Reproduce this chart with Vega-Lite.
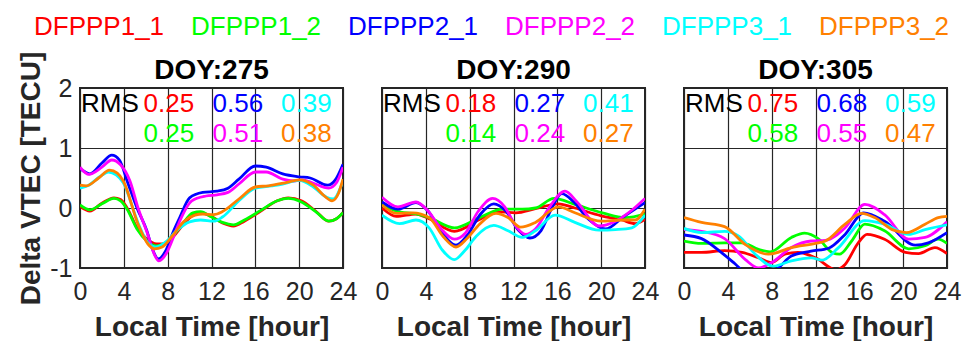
{
  "$schema": "https://vega.github.io/schema/vega-lite/v6.json",
  "background": "white",
  "padding": {"left": 8, "top": 14, "right": 5, "bottom": 0},
  "datasets": {
    "vtec": [
      {"doy":"DOY:275","series":"DFPPP1_1","hour":0,"vtec":0.03},{"doy":"DOY:275","series":"DFPPP1_1","hour":0.9,"vtec":-0.05},{"doy":"DOY:275","series":"DFPPP1_1","hour":2,"vtec":0.08},{"doy":"DOY:275","series":"DFPPP1_1","hour":3.1,"vtec":0.17},{"doy":"DOY:275","series":"DFPPP1_1","hour":3.7,"vtec":0.14},{"doy":"DOY:275","series":"DFPPP1_1","hour":4.3,"vtec":0.0},{"doy":"DOY:275","series":"DFPPP1_1","hour":5.2,"vtec":-0.33},{"doy":"DOY:275","series":"DFPPP1_1","hour":6.1,"vtec":-0.52},{"doy":"DOY:275","series":"DFPPP1_1","hour":7.0,"vtec":-0.6},{"doy":"DOY:275","series":"DFPPP1_1","hour":7.6,"vtec":-0.6},{"doy":"DOY:275","series":"DFPPP1_1","hour":8.5,"vtec":-0.48},{"doy":"DOY:275","series":"DFPPP1_1","hour":9.3,"vtec":-0.3},{"doy":"DOY:275","series":"DFPPP1_1","hour":10.3,"vtec":-0.12},{"doy":"DOY:275","series":"DFPPP1_1","hour":11,"vtec":-0.08},{"doy":"DOY:275","series":"DFPPP1_1","hour":12,"vtec":-0.14},{"doy":"DOY:275","series":"DFPPP1_1","hour":13,"vtec":-0.25},{"doy":"DOY:275","series":"DFPPP1_1","hour":14,"vtec":-0.3},{"doy":"DOY:275","series":"DFPPP1_1","hour":15,"vtec":-0.22},{"doy":"DOY:275","series":"DFPPP1_1","hour":16.5,"vtec":-0.05},{"doy":"DOY:275","series":"DFPPP1_1","hour":18,"vtec":0.12},{"doy":"DOY:275","series":"DFPPP1_1","hour":19,"vtec":0.17},{"doy":"DOY:275","series":"DFPPP1_1","hour":20.2,"vtec":0.12},{"doy":"DOY:275","series":"DFPPP1_1","hour":21.5,"vtec":-0.05},{"doy":"DOY:275","series":"DFPPP1_1","hour":22.7,"vtec":-0.22},{"doy":"DOY:275","series":"DFPPP1_1","hour":23.4,"vtec":-0.18},{"doy":"DOY:275","series":"DFPPP1_1","hour":24,"vtec":-0.08},

      {"doy":"DOY:275","series":"DFPPP1_2","hour":0,"vtec":0.05},{"doy":"DOY:275","series":"DFPPP1_2","hour":0.9,"vtec":-0.03},{"doy":"DOY:275","series":"DFPPP1_2","hour":2,"vtec":0.07},{"doy":"DOY:275","series":"DFPPP1_2","hour":3.1,"vtec":0.16},{"doy":"DOY:275","series":"DFPPP1_2","hour":3.7,"vtec":0.12},{"doy":"DOY:275","series":"DFPPP1_2","hour":4.3,"vtec":-0.02},{"doy":"DOY:275","series":"DFPPP1_2","hour":5.2,"vtec":-0.35},{"doy":"DOY:275","series":"DFPPP1_2","hour":6.1,"vtec":-0.55},{"doy":"DOY:275","series":"DFPPP1_2","hour":7.0,"vtec":-0.63},{"doy":"DOY:275","series":"DFPPP1_2","hour":7.6,"vtec":-0.6},{"doy":"DOY:275","series":"DFPPP1_2","hour":8.5,"vtec":-0.46},{"doy":"DOY:275","series":"DFPPP1_2","hour":9.3,"vtec":-0.28},{"doy":"DOY:275","series":"DFPPP1_2","hour":10.3,"vtec":-0.08},{"doy":"DOY:275","series":"DFPPP1_2","hour":11,"vtec":-0.06},{"doy":"DOY:275","series":"DFPPP1_2","hour":12,"vtec":-0.15},{"doy":"DOY:275","series":"DFPPP1_2","hour":13,"vtec":-0.24},{"doy":"DOY:275","series":"DFPPP1_2","hour":14,"vtec":-0.28},{"doy":"DOY:275","series":"DFPPP1_2","hour":15,"vtec":-0.2},{"doy":"DOY:275","series":"DFPPP1_2","hour":16.5,"vtec":-0.04},{"doy":"DOY:275","series":"DFPPP1_2","hour":18,"vtec":0.12},{"doy":"DOY:275","series":"DFPPP1_2","hour":19,"vtec":0.16},{"doy":"DOY:275","series":"DFPPP1_2","hour":20.2,"vtec":0.1},{"doy":"DOY:275","series":"DFPPP1_2","hour":21.5,"vtec":-0.06},{"doy":"DOY:275","series":"DFPPP1_2","hour":22.7,"vtec":-0.22},{"doy":"DOY:275","series":"DFPPP1_2","hour":23.4,"vtec":-0.18},{"doy":"DOY:275","series":"DFPPP1_2","hour":24,"vtec":-0.08},

      {"doy":"DOY:275","series":"DFPPP2_1","hour":0,"vtec":0.66},{"doy":"DOY:275","series":"DFPPP2_1","hour":0.9,"vtec":0.57},{"doy":"DOY:275","series":"DFPPP2_1","hour":2,"vtec":0.75},{"doy":"DOY:275","series":"DFPPP2_1","hour":2.9,"vtec":0.88},{"doy":"DOY:275","series":"DFPPP2_1","hour":3.6,"vtec":0.8},{"doy":"DOY:275","series":"DFPPP2_1","hour":4.3,"vtec":0.45},{"doy":"DOY:275","series":"DFPPP2_1","hour":5.2,"vtec":0.0},{"doy":"DOY:275","series":"DFPPP2_1","hour":6.1,"vtec":-0.38},{"doy":"DOY:275","series":"DFPPP2_1","hour":6.6,"vtec":-0.68},{"doy":"DOY:275","series":"DFPPP2_1","hour":7.15,"vtec":-0.85},{"doy":"DOY:275","series":"DFPPP2_1","hour":7.8,"vtec":-0.72},{"doy":"DOY:275","series":"DFPPP2_1","hour":8.5,"vtec":-0.4},{"doy":"DOY:275","series":"DFPPP2_1","hour":9.1,"vtec":-0.16},{"doy":"DOY:275","series":"DFPPP2_1","hour":10,"vtec":0.17},{"doy":"DOY:275","series":"DFPPP2_1","hour":11.2,"vtec":0.26},{"doy":"DOY:275","series":"DFPPP2_1","hour":12.5,"vtec":0.28},{"doy":"DOY:275","series":"DFPPP2_1","hour":13.5,"vtec":0.33},{"doy":"DOY:275","series":"DFPPP2_1","hour":14.5,"vtec":0.48},{"doy":"DOY:275","series":"DFPPP2_1","hour":16,"vtec":0.7},{"doy":"DOY:275","series":"DFPPP2_1","hour":17,"vtec":0.68},{"doy":"DOY:275","series":"DFPPP2_1","hour":18.5,"vtec":0.57},{"doy":"DOY:275","series":"DFPPP2_1","hour":20,"vtec":0.52},{"doy":"DOY:275","series":"DFPPP2_1","hour":21,"vtec":0.5},{"doy":"DOY:275","series":"DFPPP2_1","hour":22.6,"vtec":0.38},{"doy":"DOY:275","series":"DFPPP2_1","hour":23.3,"vtec":0.47},{"doy":"DOY:275","series":"DFPPP2_1","hour":24,"vtec":0.73},

      {"doy":"DOY:275","series":"DFPPP2_2","hour":0,"vtec":0.68},{"doy":"DOY:275","series":"DFPPP2_2","hour":0.8,"vtec":0.56},{"doy":"DOY:275","series":"DFPPP2_2","hour":2,"vtec":0.68},{"doy":"DOY:275","series":"DFPPP2_2","hour":2.9,"vtec":0.8},{"doy":"DOY:275","series":"DFPPP2_2","hour":3.7,"vtec":0.72},{"doy":"DOY:275","series":"DFPPP2_2","hour":4.56,"vtec":0.45},{"doy":"DOY:275","series":"DFPPP2_2","hour":5.3,"vtec":0.0},{"doy":"DOY:275","series":"DFPPP2_2","hour":6.2,"vtec":-0.45},{"doy":"DOY:275","series":"DFPPP2_2","hour":6.8,"vtec":-0.78},{"doy":"DOY:275","series":"DFPPP2_2","hour":7.2,"vtec":-0.88},{"doy":"DOY:275","series":"DFPPP2_2","hour":7.9,"vtec":-0.75},{"doy":"DOY:275","series":"DFPPP2_2","hour":8.5,"vtec":-0.5},{"doy":"DOY:275","series":"DFPPP2_2","hour":9.1,"vtec":-0.22},{"doy":"DOY:275","series":"DFPPP2_2","hour":10.2,"vtec":0.12},{"doy":"DOY:275","series":"DFPPP2_2","hour":11.5,"vtec":0.2},{"doy":"DOY:275","series":"DFPPP2_2","hour":12.5,"vtec":0.22},{"doy":"DOY:275","series":"DFPPP2_2","hour":13.5,"vtec":0.26},{"doy":"DOY:275","series":"DFPPP2_2","hour":14.5,"vtec":0.4},{"doy":"DOY:275","series":"DFPPP2_2","hour":16,"vtec":0.6},{"doy":"DOY:275","series":"DFPPP2_2","hour":17,"vtec":0.6},{"doy":"DOY:275","series":"DFPPP2_2","hour":18.5,"vtec":0.48},{"doy":"DOY:275","series":"DFPPP2_2","hour":19.5,"vtec":0.45},{"doy":"DOY:275","series":"DFPPP2_2","hour":20.3,"vtec":0.47},{"doy":"DOY:275","series":"DFPPP2_2","hour":21.2,"vtec":0.42},{"doy":"DOY:275","series":"DFPPP2_2","hour":22.7,"vtec":0.33},{"doy":"DOY:275","series":"DFPPP2_2","hour":23.4,"vtec":0.42},{"doy":"DOY:275","series":"DFPPP2_2","hour":24,"vtec":0.68},

      {"doy":"DOY:275","series":"DFPPP3_1","hour":0,"vtec":0.33},{"doy":"DOY:275","series":"DFPPP3_1","hour":0.8,"vtec":0.38},{"doy":"DOY:275","series":"DFPPP3_1","hour":1.8,"vtec":0.52},{"doy":"DOY:275","series":"DFPPP3_1","hour":2.6,"vtec":0.6},{"doy":"DOY:275","series":"DFPPP3_1","hour":3.3,"vtec":0.55},{"doy":"DOY:275","series":"DFPPP3_1","hour":3.95,"vtec":0.42},{"doy":"DOY:275","series":"DFPPP3_1","hour":5.3,"vtec":-0.25},{"doy":"DOY:275","series":"DFPPP3_1","hour":6.2,"vtec":-0.58},{"doy":"DOY:275","series":"DFPPP3_1","hour":6.9,"vtec":-0.65},{"doy":"DOY:275","series":"DFPPP3_1","hour":7.8,"vtec":-0.57},{"doy":"DOY:275","series":"DFPPP3_1","hour":8.8,"vtec":-0.38},{"doy":"DOY:275","series":"DFPPP3_1","hour":10,"vtec":-0.23},{"doy":"DOY:275","series":"DFPPP3_1","hour":11,"vtec":-0.2},{"doy":"DOY:275","series":"DFPPP3_1","hour":12.2,"vtec":-0.22},{"doy":"DOY:275","series":"DFPPP3_1","hour":13,"vtec":-0.15},{"doy":"DOY:275","series":"DFPPP3_1","hour":14.5,"vtec":0.12},{"doy":"DOY:275","series":"DFPPP3_1","hour":16,"vtec":0.33},{"doy":"DOY:275","series":"DFPPP3_1","hour":17.5,"vtec":0.37},{"doy":"DOY:275","series":"DFPPP3_1","hour":18.5,"vtec":0.4},{"doy":"DOY:275","series":"DFPPP3_1","hour":20,"vtec":0.46},{"doy":"DOY:275","series":"DFPPP3_1","hour":21.3,"vtec":0.35},{"doy":"DOY:275","series":"DFPPP3_1","hour":22.5,"vtec":0.18},{"doy":"DOY:275","series":"DFPPP3_1","hour":23.1,"vtec":0.15},{"doy":"DOY:275","series":"DFPPP3_1","hour":24,"vtec":0.45},

      {"doy":"DOY:275","series":"DFPPP3_2","hour":0,"vtec":0.38},{"doy":"DOY:275","series":"DFPPP3_2","hour":0.6,"vtec":0.37},{"doy":"DOY:275","series":"DFPPP3_2","hour":1.7,"vtec":0.5},{"doy":"DOY:275","series":"DFPPP3_2","hour":2.7,"vtec":0.63},{"doy":"DOY:275","series":"DFPPP3_2","hour":3.4,"vtec":0.58},{"doy":"DOY:275","series":"DFPPP3_2","hour":3.95,"vtec":0.45},{"doy":"DOY:275","series":"DFPPP3_2","hour":5.3,"vtec":-0.27},{"doy":"DOY:275","series":"DFPPP3_2","hour":6.2,"vtec":-0.6},{"doy":"DOY:275","series":"DFPPP3_2","hour":6.8,"vtec":-0.68},{"doy":"DOY:275","series":"DFPPP3_2","hour":7.5,"vtec":-0.65},{"doy":"DOY:275","series":"DFPPP3_2","hour":8.5,"vtec":-0.45},{"doy":"DOY:275","series":"DFPPP3_2","hour":9.5,"vtec":-0.22},{"doy":"DOY:275","series":"DFPPP3_2","hour":10.5,"vtec":-0.12},{"doy":"DOY:275","series":"DFPPP3_2","hour":11.2,"vtec":-0.1},{"doy":"DOY:275","series":"DFPPP3_2","hour":12.2,"vtec":-0.11},{"doy":"DOY:275","series":"DFPPP3_2","hour":13,"vtec":-0.06},{"doy":"DOY:275","series":"DFPPP3_2","hour":14.5,"vtec":0.15},{"doy":"DOY:275","series":"DFPPP3_2","hour":16,"vtec":0.35},{"doy":"DOY:275","series":"DFPPP3_2","hour":17.2,"vtec":0.37},{"doy":"DOY:275","series":"DFPPP3_2","hour":18.7,"vtec":0.42},{"doy":"DOY:275","series":"DFPPP3_2","hour":20,"vtec":0.47},{"doy":"DOY:275","series":"DFPPP3_2","hour":21.3,"vtec":0.38},{"doy":"DOY:275","series":"DFPPP3_2","hour":22.3,"vtec":0.2},{"doy":"DOY:275","series":"DFPPP3_2","hour":23,"vtec":0.12},{"doy":"DOY:275","series":"DFPPP3_2","hour":23.6,"vtec":0.25},{"doy":"DOY:275","series":"DFPPP3_2","hour":24,"vtec":0.48},

      {"doy":"DOY:290","series":"DFPPP1_1","hour":0,"vtec":0.0},{"doy":"DOY:290","series":"DFPPP1_1","hour":1.3,"vtec":-0.14},{"doy":"DOY:290","series":"DFPPP1_1","hour":3.1,"vtec":-0.1},{"doy":"DOY:290","series":"DFPPP1_1","hour":4.3,"vtec":-0.18},{"doy":"DOY:290","series":"DFPPP1_1","hour":6.6,"vtec":-0.39},{"doy":"DOY:290","series":"DFPPP1_1","hour":8.9,"vtec":-0.19},{"doy":"DOY:290","series":"DFPPP1_1","hour":10.4,"vtec":-0.06},{"doy":"DOY:290","series":"DFPPP1_1","hour":12.2,"vtec":-0.08},{"doy":"DOY:290","series":"DFPPP1_1","hour":14,"vtec":-0.01},{"doy":"DOY:290","series":"DFPPP1_1","hour":16.1,"vtec":0.07},{"doy":"DOY:290","series":"DFPPP1_1","hour":17.6,"vtec":0.0},{"doy":"DOY:290","series":"DFPPP1_1","hour":20,"vtec":-0.13},{"doy":"DOY:290","series":"DFPPP1_1","hour":21.9,"vtec":-0.2},{"doy":"DOY:290","series":"DFPPP1_1","hour":23.1,"vtec":-0.26},{"doy":"DOY:290","series":"DFPPP1_1","hour":24,"vtec":-0.19},

      {"doy":"DOY:290","series":"DFPPP1_2","hour":0,"vtec":0.06},{"doy":"DOY:290","series":"DFPPP1_2","hour":1.3,"vtec":-0.05},{"doy":"DOY:290","series":"DFPPP1_2","hour":3.1,"vtec":-0.1},{"doy":"DOY:290","series":"DFPPP1_2","hour":4.3,"vtec":-0.16},{"doy":"DOY:290","series":"DFPPP1_2","hour":6.6,"vtec":-0.33},{"doy":"DOY:290","series":"DFPPP1_2","hour":8.9,"vtec":-0.16},{"doy":"DOY:290","series":"DFPPP1_2","hour":11,"vtec":-0.02},{"doy":"DOY:290","series":"DFPPP1_2","hour":12.8,"vtec":-0.02},{"doy":"DOY:290","series":"DFPPP1_2","hour":14,"vtec":0.0},{"doy":"DOY:290","series":"DFPPP1_2","hour":15.7,"vtec":0.16},{"doy":"DOY:290","series":"DFPPP1_2","hour":17.6,"vtec":0.06},{"doy":"DOY:290","series":"DFPPP1_2","hour":20.1,"vtec":-0.08},{"doy":"DOY:290","series":"DFPPP1_2","hour":22.2,"vtec":-0.16},{"doy":"DOY:290","series":"DFPPP1_2","hour":24,"vtec":-0.1},

      {"doy":"DOY:290","series":"DFPPP2_1","hour":0,"vtec":0.1},{"doy":"DOY:290","series":"DFPPP2_1","hour":1.45,"vtec":-0.02},{"doy":"DOY:290","series":"DFPPP2_1","hour":3.1,"vtec":0.09},{"doy":"DOY:290","series":"DFPPP2_1","hour":4.2,"vtec":-0.05},{"doy":"DOY:290","series":"DFPPP2_1","hour":5.5,"vtec":-0.42},{"doy":"DOY:290","series":"DFPPP2_1","hour":6.75,"vtec":-0.62},{"doy":"DOY:290","series":"DFPPP2_1","hour":7.8,"vtec":-0.45},{"doy":"DOY:290","series":"DFPPP2_1","hour":9,"vtec":-0.1},{"doy":"DOY:290","series":"DFPPP2_1","hour":10.2,"vtec":0.07},{"doy":"DOY:290","series":"DFPPP2_1","hour":11.3,"vtec":-0.05},{"doy":"DOY:290","series":"DFPPP2_1","hour":12.5,"vtec":-0.38},{"doy":"DOY:290","series":"DFPPP2_1","hour":13.5,"vtec":-0.5},{"doy":"DOY:290","series":"DFPPP2_1","hour":14.5,"vtec":-0.38},{"doy":"DOY:290","series":"DFPPP2_1","hour":15.5,"vtec":0.0},{"doy":"DOY:290","series":"DFPPP2_1","hour":16.4,"vtec":0.24},{"doy":"DOY:290","series":"DFPPP2_1","hour":17.5,"vtec":0.1},{"doy":"DOY:290","series":"DFPPP2_1","hour":18.8,"vtec":-0.18},{"doy":"DOY:290","series":"DFPPP2_1","hour":20.4,"vtec":-0.35},{"doy":"DOY:290","series":"DFPPP2_1","hour":22,"vtec":-0.15},{"doy":"DOY:290","series":"DFPPP2_1","hour":24,"vtec":0.09},

      {"doy":"DOY:290","series":"DFPPP2_2","hour":0,"vtec":0.18},{"doy":"DOY:290","series":"DFPPP2_2","hour":1.45,"vtec":0.02},{"doy":"DOY:290","series":"DFPPP2_2","hour":3.1,"vtec":0.1},{"doy":"DOY:290","series":"DFPPP2_2","hour":4.2,"vtec":-0.05},{"doy":"DOY:290","series":"DFPPP2_2","hour":5.4,"vtec":-0.35},{"doy":"DOY:290","series":"DFPPP2_2","hour":6.6,"vtec":-0.52},{"doy":"DOY:290","series":"DFPPP2_2","hour":7.6,"vtec":-0.42},{"doy":"DOY:290","series":"DFPPP2_2","hour":8.8,"vtec":-0.05},{"doy":"DOY:290","series":"DFPPP2_2","hour":10.1,"vtec":0.16},{"doy":"DOY:290","series":"DFPPP2_2","hour":11.2,"vtec":0.02},{"doy":"DOY:290","series":"DFPPP2_2","hour":12.2,"vtec":-0.3},{"doy":"DOY:290","series":"DFPPP2_2","hour":13.1,"vtec":-0.44},{"doy":"DOY:290","series":"DFPPP2_2","hour":14,"vtec":-0.35},{"doy":"DOY:290","series":"DFPPP2_2","hour":15.3,"vtec":0.02},{"doy":"DOY:290","series":"DFPPP2_2","hour":16.7,"vtec":0.28},{"doy":"DOY:290","series":"DFPPP2_2","hour":17.8,"vtec":0.1},{"doy":"DOY:290","series":"DFPPP2_2","hour":19.8,"vtec":-0.3},{"doy":"DOY:290","series":"DFPPP2_2","hour":21.3,"vtec":-0.22},{"doy":"DOY:290","series":"DFPPP2_2","hour":22.7,"vtec":-0.05},{"doy":"DOY:290","series":"DFPPP2_2","hour":24,"vtec":0.16},

      {"doy":"DOY:290","series":"DFPPP3_1","hour":0,"vtec":-0.12},{"doy":"DOY:290","series":"DFPPP3_1","hour":1.6,"vtec":-0.26},{"doy":"DOY:290","series":"DFPPP3_1","hour":3.1,"vtec":-0.2},{"doy":"DOY:290","series":"DFPPP3_1","hour":4.3,"vtec":-0.33},{"doy":"DOY:290","series":"DFPPP3_1","hour":5.5,"vtec":-0.7},{"doy":"DOY:290","series":"DFPPP3_1","hour":6.6,"vtec":-0.86},{"doy":"DOY:290","series":"DFPPP3_1","hour":7.6,"vtec":-0.7},{"doy":"DOY:290","series":"DFPPP3_1","hour":8.6,"vtec":-0.47},{"doy":"DOY:290","series":"DFPPP3_1","hour":10.2,"vtec":-0.29},{"doy":"DOY:290","series":"DFPPP3_1","hour":11.5,"vtec":-0.38},{"doy":"DOY:290","series":"DFPPP3_1","hour":12.8,"vtec":-0.49},{"doy":"DOY:290","series":"DFPPP3_1","hour":14,"vtec":-0.38},{"doy":"DOY:290","series":"DFPPP3_1","hour":15.8,"vtec":-0.12},{"doy":"DOY:290","series":"DFPPP3_1","hour":17.6,"vtec":-0.24},{"doy":"DOY:290","series":"DFPPP3_1","hour":19.8,"vtec":-0.37},{"doy":"DOY:290","series":"DFPPP3_1","hour":21.3,"vtec":-0.36},{"doy":"DOY:290","series":"DFPPP3_1","hour":22.8,"vtec":-0.33},{"doy":"DOY:290","series":"DFPPP3_1","hour":24,"vtec":-0.12},

      {"doy":"DOY:290","series":"DFPPP3_2","hour":0,"vtec":0.05},{"doy":"DOY:290","series":"DFPPP3_2","hour":1.3,"vtec":-0.09},{"doy":"DOY:290","series":"DFPPP3_2","hour":2.8,"vtec":-0.08},{"doy":"DOY:290","series":"DFPPP3_2","hour":4.3,"vtec":-0.16},{"doy":"DOY:290","series":"DFPPP3_2","hour":5.6,"vtec":-0.48},{"doy":"DOY:290","series":"DFPPP3_2","hour":6.75,"vtec":-0.65},{"doy":"DOY:290","series":"DFPPP3_2","hour":7.8,"vtec":-0.5},{"doy":"DOY:290","series":"DFPPP3_2","hour":8.9,"vtec":-0.27},{"doy":"DOY:290","series":"DFPPP3_2","hour":10.4,"vtec":-0.09},{"doy":"DOY:290","series":"DFPPP3_2","hour":11.5,"vtec":-0.16},{"doy":"DOY:290","series":"DFPPP3_2","hour":12.65,"vtec":-0.32},{"doy":"DOY:290","series":"DFPPP3_2","hour":14,"vtec":-0.24},{"doy":"DOY:290","series":"DFPPP3_2","hour":16.1,"vtec":0.02},{"doy":"DOY:290","series":"DFPPP3_2","hour":17.6,"vtec":-0.08},{"doy":"DOY:290","series":"DFPPP3_2","hour":20,"vtec":-0.22},{"doy":"DOY:290","series":"DFPPP3_2","hour":21.9,"vtec":-0.2},{"doy":"DOY:290","series":"DFPPP3_2","hour":23.1,"vtec":-0.2},{"doy":"DOY:290","series":"DFPPP3_2","hour":24,"vtec":-0.02},

      {"doy":"DOY:305","series":"DFPPP1_1","hour":0,"vtec":-0.74},{"doy":"DOY:305","series":"DFPPP1_1","hour":1.6,"vtec":-0.74},{"doy":"DOY:305","series":"DFPPP1_1","hour":3.7,"vtec":-0.71},{"doy":"DOY:305","series":"DFPPP1_1","hour":5.3,"vtec":-0.74},{"doy":"DOY:305","series":"DFPPP1_1","hour":6.8,"vtec":-0.83},{"doy":"DOY:305","series":"DFPPP1_1","hour":8,"vtec":-0.91},{"doy":"DOY:305","series":"DFPPP1_1","hour":9.2,"vtec":-0.77},{"doy":"DOY:305","series":"DFPPP1_1","hour":10.4,"vtec":-0.74},{"doy":"DOY:305","series":"DFPPP1_1","hour":12,"vtec":-0.83},{"doy":"DOY:305","series":"DFPPP1_1","hour":13.9,"vtec":-1.03},{"doy":"DOY:305","series":"DFPPP1_1","hour":14.7,"vtec":-0.94},{"doy":"DOY:305","series":"DFPPP1_1","hour":15.9,"vtec":-0.58},{"doy":"DOY:305","series":"DFPPP1_1","hour":16.7,"vtec":-0.44},{"doy":"DOY:305","series":"DFPPP1_1","hour":18.3,"vtec":-0.52},{"doy":"DOY:305","series":"DFPPP1_1","hour":20.2,"vtec":-0.74},{"doy":"DOY:305","series":"DFPPP1_1","hour":21.4,"vtec":-0.76},{"doy":"DOY:305","series":"DFPPP1_1","hour":22.9,"vtec":-0.66},{"doy":"DOY:305","series":"DFPPP1_1","hour":24,"vtec":-0.76},

      {"doy":"DOY:305","series":"DFPPP1_2","hour":0,"vtec":-0.55},{"doy":"DOY:305","series":"DFPPP1_2","hour":1.6,"vtec":-0.59},{"doy":"DOY:305","series":"DFPPP1_2","hour":3.7,"vtec":-0.58},{"doy":"DOY:305","series":"DFPPP1_2","hour":5.3,"vtec":-0.58},{"doy":"DOY:305","series":"DFPPP1_2","hour":6.8,"vtec":-0.69},{"doy":"DOY:305","series":"DFPPP1_2","hour":7.85,"vtec":-0.73},{"doy":"DOY:305","series":"DFPPP1_2","hour":9.8,"vtec":-0.49},{"doy":"DOY:305","series":"DFPPP1_2","hour":11,"vtec":-0.42},{"doy":"DOY:305","series":"DFPPP1_2","hour":12.3,"vtec":-0.52},{"doy":"DOY:305","series":"DFPPP1_2","hour":13.5,"vtec":-0.74},{"doy":"DOY:305","series":"DFPPP1_2","hour":14.2,"vtec":-0.77},{"doy":"DOY:305","series":"DFPPP1_2","hour":15.3,"vtec":-0.55},{"doy":"DOY:305","series":"DFPPP1_2","hour":16.5,"vtec":-0.27},{"doy":"DOY:305","series":"DFPPP1_2","hour":18.3,"vtec":-0.38},{"doy":"DOY:305","series":"DFPPP1_2","hour":20.5,"vtec":-0.68},{"doy":"DOY:305","series":"DFPPP1_2","hour":22,"vtec":-0.63},{"doy":"DOY:305","series":"DFPPP1_2","hour":23.2,"vtec":-0.52},{"doy":"DOY:305","series":"DFPPP1_2","hour":24,"vtec":-0.59},

      {"doy":"DOY:305","series":"DFPPP2_1","hour":0,"vtec":-0.45},{"doy":"DOY:305","series":"DFPPP2_1","hour":1.6,"vtec":-0.51},{"doy":"DOY:305","series":"DFPPP2_1","hour":3.4,"vtec":-0.74},{"doy":"DOY:305","series":"DFPPP2_1","hour":4.65,"vtec":-0.93},{"doy":"DOY:305","series":"DFPPP2_1","hour":5.6,"vtec":-1.08},{"doy":"DOY:305","series":"DFPPP2_1","hour":7,"vtec":-1.15},{"doy":"DOY:305","series":"DFPPP2_1","hour":8.6,"vtec":-1.0},{"doy":"DOY:305","series":"DFPPP2_1","hour":9.8,"vtec":-0.8},{"doy":"DOY:305","series":"DFPPP2_1","hour":11.6,"vtec":-0.72},{"doy":"DOY:305","series":"DFPPP2_1","hour":13.2,"vtec":-0.67},{"doy":"DOY:305","series":"DFPPP2_1","hour":14.7,"vtec":-0.44},{"doy":"DOY:305","series":"DFPPP2_1","hour":16.4,"vtec":-0.08},{"doy":"DOY:305","series":"DFPPP2_1","hour":18.3,"vtec":-0.22},{"doy":"DOY:305","series":"DFPPP2_1","hour":21.1,"vtec":-0.62},{"doy":"DOY:305","series":"DFPPP2_1","hour":22.3,"vtec":-0.58},{"doy":"DOY:305","series":"DFPPP2_1","hour":24,"vtec":-0.41},

      {"doy":"DOY:305","series":"DFPPP2_2","hour":0,"vtec":-0.36},{"doy":"DOY:305","series":"DFPPP2_2","hour":1.6,"vtec":-0.39},{"doy":"DOY:305","series":"DFPPP2_2","hour":3.7,"vtec":-0.51},{"doy":"DOY:305","series":"DFPPP2_2","hour":5.6,"vtec":-0.86},{"doy":"DOY:305","series":"DFPPP2_2","hour":6.8,"vtec":-1.0},{"doy":"DOY:305","series":"DFPPP2_2","hour":8,"vtec":-0.91},{"doy":"DOY:305","series":"DFPPP2_2","hour":9.8,"vtec":-0.66},{"doy":"DOY:305","series":"DFPPP2_2","hour":11.6,"vtec":-0.55},{"doy":"DOY:305","series":"DFPPP2_2","hour":12.9,"vtec":-0.54},{"doy":"DOY:305","series":"DFPPP2_2","hour":14.7,"vtec":-0.33},{"doy":"DOY:305","series":"DFPPP2_2","hour":16.5,"vtec":0.06},{"doy":"DOY:305","series":"DFPPP2_2","hour":18.3,"vtec":-0.11},{"doy":"DOY:305","series":"DFPPP2_2","hour":20.5,"vtec":-0.52},{"doy":"DOY:305","series":"DFPPP2_2","hour":22,"vtec":-0.49},{"doy":"DOY:305","series":"DFPPP2_2","hour":24,"vtec":-0.23},

      {"doy":"DOY:305","series":"DFPPP3_1","hour":0,"vtec":-0.34},{"doy":"DOY:305","series":"DFPPP3_1","hour":1.6,"vtec":-0.41},{"doy":"DOY:305","series":"DFPPP3_1","hour":3.7,"vtec":-0.39},{"doy":"DOY:305","series":"DFPPP3_1","hour":5,"vtec":-0.47},{"doy":"DOY:305","series":"DFPPP3_1","hour":6.5,"vtec":-0.77},{"doy":"DOY:305","series":"DFPPP3_1","hour":8.15,"vtec":-0.97},{"doy":"DOY:305","series":"DFPPP3_1","hour":9.8,"vtec":-0.88},{"doy":"DOY:305","series":"DFPPP3_1","hour":11.6,"vtec":-0.83},{"doy":"DOY:305","series":"DFPPP3_1","hour":12.6,"vtec":-0.87},{"doy":"DOY:305","series":"DFPPP3_1","hour":14.1,"vtec":-0.66},{"doy":"DOY:305","series":"DFPPP3_1","hour":16.5,"vtec":-0.21},{"doy":"DOY:305","series":"DFPPP3_1","hour":18.3,"vtec":-0.27},{"doy":"DOY:305","series":"DFPPP3_1","hour":20.5,"vtec":-0.44},{"doy":"DOY:305","series":"DFPPP3_1","hour":22,"vtec":-0.36},{"doy":"DOY:305","series":"DFPPP3_1","hour":24,"vtec":-0.28},

      {"doy":"DOY:305","series":"DFPPP3_2","hour":0,"vtec":-0.16},{"doy":"DOY:305","series":"DFPPP3_2","hour":1.6,"vtec":-0.24},{"doy":"DOY:305","series":"DFPPP3_2","hour":3.7,"vtec":-0.31},{"doy":"DOY:305","series":"DFPPP3_2","hour":5.6,"vtec":-0.61},{"doy":"DOY:305","series":"DFPPP3_2","hour":7.7,"vtec":-0.77},{"doy":"DOY:305","series":"DFPPP3_2","hour":9.8,"vtec":-0.66},{"doy":"DOY:305","series":"DFPPP3_2","hour":12,"vtec":-0.59},{"doy":"DOY:305","series":"DFPPP3_2","hour":12.9,"vtec":-0.55},{"doy":"DOY:305","series":"DFPPP3_2","hour":14.7,"vtec":-0.27},{"doy":"DOY:305","series":"DFPPP3_2","hour":16.2,"vtec":-0.09},{"doy":"DOY:305","series":"DFPPP3_2","hour":17.4,"vtec":-0.16},{"doy":"DOY:305","series":"DFPPP3_2","hour":19,"vtec":-0.36},{"doy":"DOY:305","series":"DFPPP3_2","hour":20.3,"vtec":-0.41},{"doy":"DOY:305","series":"DFPPP3_2","hour":22,"vtec":-0.27},{"doy":"DOY:305","series":"DFPPP3_2","hour":23.2,"vtec":-0.16},{"doy":"DOY:305","series":"DFPPP3_2","hour":24,"vtec":-0.14},

      {"doy":"DOY:275","series":"DFPPP1_1","rms":0.25},{"doy":"DOY:275","series":"DFPPP1_2","rms":0.25},{"doy":"DOY:275","series":"DFPPP2_1","rms":0.56},{"doy":"DOY:275","series":"DFPPP2_2","rms":0.51},{"doy":"DOY:275","series":"DFPPP3_1","rms":0.39},{"doy":"DOY:275","series":"DFPPP3_2","rms":0.38},
      {"doy":"DOY:290","series":"DFPPP1_1","rms":0.18},{"doy":"DOY:290","series":"DFPPP1_2","rms":0.14},{"doy":"DOY:290","series":"DFPPP2_1","rms":0.27},{"doy":"DOY:290","series":"DFPPP2_2","rms":0.24},{"doy":"DOY:290","series":"DFPPP3_1","rms":0.41},{"doy":"DOY:290","series":"DFPPP3_2","rms":0.27},
      {"doy":"DOY:305","series":"DFPPP1_1","rms":0.75},{"doy":"DOY:305","series":"DFPPP1_2","rms":0.58},{"doy":"DOY:305","series":"DFPPP2_1","rms":0.68},{"doy":"DOY:305","series":"DFPPP2_2","rms":0.55},{"doy":"DOY:305","series":"DFPPP3_1","rms":0.59},{"doy":"DOY:305","series":"DFPPP3_2","rms":0.47}
    ]
  },
  "data": {"name": "vtec"},
  "facet": {
    "column": {
      "field": "doy",
      "type": "nominal",
      "header": {
        "title": null,
        "labelFont": "Liberation Sans",
        "labelFontSize": 28,
        "labelFontWeight": "bold",
        "labelColor": "black",
        "labelBaseline": "alphabetic",
        "labelPadding": -19
      }
    }
  },
  "spacing": {"column": 39, "row": 0},
  "bounds": "flush",
  "spec": {
    "width": 263,
    "height": 180,
    "layer": [
      {
        "transform": [{"filter": "isValid(datum.vtec)"}],
        "mark": {"type": "line", "interpolate": "monotone", "strokeWidth": 2.8, "clip": true},
        "encoding": {
          "x": {
            "field": "hour", "type": "quantitative",
            "scale": {"domain": [0, 24], "nice": false, "zero": false},
            "axis": {
              "values": [0, 4, 8, 12, 16, 20, 24],
              "title": "Local Time [hour]",
              "grid": true, "gridColor": "#262626", "gridWidth": 1.2, "gridOpacity": 1,
              "domain": false, "ticks": false, "tickSize": 0,
              "labelPadding": 11, "labelFontSize": 25, "labelColor": "#262626",
              "labelFont": "Liberation Sans", "labelFlush": false, "labelOverlap": false,
              "titleFont": "Liberation Sans", "titleFontSize": 28, "titleFontWeight": "bold",
              "titleColor": "#262626", "titleBaseline": "alphabetic", "titleY": 67
            }
          },
          "y": {
            "field": "vtec", "type": "quantitative",
            "scale": {"domain": [-1, 2], "nice": false, "zero": false},
            "axis": {
              "values": [-1, 0, 1, 2],
              "labelExpr": "'' + datum.value",
              "title": "Delta VTEC [TECU]",
              "grid": true, "gridColor": "#262626", "gridWidth": 1.2, "gridOpacity": 1,
              "domain": false, "ticks": false, "tickSize": 0,
              "labelPadding": 8, "labelFontSize": 25, "labelColor": "#262626",
              "labelFont": "Liberation Sans", "labelOverlap": false, "labelFlush": false,
              "titleFont": "Liberation Sans", "titleFontSize": 28, "titleFontWeight": "bold",
              "titleColor": "#262626", "titleBaseline": "alphabetic", "titleAngle": 270,
              "titleAlign": "center", "titleX": -41, "titleY": 90
            }
          },
          "color": {
            "field": "series", "type": "nominal",
            "scale": {
              "domain": ["DFPPP1_1", "DFPPP1_2", "DFPPP2_1", "DFPPP2_2", "DFPPP3_1", "DFPPP3_2"],
              "range": ["#ff0000", "#00ff00", "#0000ff", "#ff00ff", "#00ffff", "#ff8000"]
            },
            "legend": {
              "orient": "none", "legendX": -72, "legendY": -74,
              "direction": "horizontal", "columns": 6, "title": null,
              "symbolSize": 0, "symbolOpacity": 0, "symbolStrokeWidth": 0,
              "labelFont": "Liberation Sans", "labelFontSize": 26, "labelOffset": 0,
              "labelLimit": 300, "columnPadding": -5.4, "padding": 0,
              "encode": {"labels": {"update": {"fill": {"scale": "color", "field": "value"}}}}
            }
          }
        }
      },
      {
        "transform": [{"filter": "isValid(datum.rms) && datum.series == 'DFPPP1_1'"}],
        "mark": {"type": "text", "align": "left", "baseline": "alphabetic", "font": "Liberation Sans", "fontSize": 26, "color": "black"},
        "encoding": {"x": {"datum": 0.1, "type": "quantitative"}, "y": {"datum": 1.6, "type": "quantitative"}, "text": {"value": "RMS"}}
      },
      {
        "transform": [{"filter": "isValid(datum.rms) && datum.series == 'DFPPP1_1'"}],
        "mark": {"type": "text", "align": "left", "baseline": "alphabetic", "font": "Liberation Sans", "fontSize": 26},
        "encoding": {"x": {"datum": 5.8, "type": "quantitative"}, "y": {"datum": 1.6, "type": "quantitative"}, "text": {"field": "rms", "format": ".2f"}, "color": {"field": "series", "type": "nominal"}}
      },
      {
        "transform": [{"filter": "isValid(datum.rms) && datum.series == 'DFPPP1_2'"}],
        "mark": {"type": "text", "align": "left", "baseline": "alphabetic", "font": "Liberation Sans", "fontSize": 26},
        "encoding": {"x": {"datum": 5.8, "type": "quantitative"}, "y": {"datum": 1.1, "type": "quantitative"}, "text": {"field": "rms", "format": ".2f"}, "color": {"field": "series", "type": "nominal"}}
      },
      {
        "transform": [{"filter": "isValid(datum.rms) && datum.series == 'DFPPP2_1'"}],
        "mark": {"type": "text", "align": "left", "baseline": "alphabetic", "font": "Liberation Sans", "fontSize": 26},
        "encoding": {"x": {"datum": 12.1, "type": "quantitative"}, "y": {"datum": 1.6, "type": "quantitative"}, "text": {"field": "rms", "format": ".2f"}, "color": {"field": "series", "type": "nominal"}}
      },
      {
        "transform": [{"filter": "isValid(datum.rms) && datum.series == 'DFPPP2_2'"}],
        "mark": {"type": "text", "align": "left", "baseline": "alphabetic", "font": "Liberation Sans", "fontSize": 26},
        "encoding": {"x": {"datum": 12.1, "type": "quantitative"}, "y": {"datum": 1.1, "type": "quantitative"}, "text": {"field": "rms", "format": ".2f"}, "color": {"field": "series", "type": "nominal"}}
      },
      {
        "transform": [{"filter": "isValid(datum.rms) && datum.series == 'DFPPP3_1'"}],
        "mark": {"type": "text", "align": "left", "baseline": "alphabetic", "font": "Liberation Sans", "fontSize": 26},
        "encoding": {"x": {"datum": 18.35, "type": "quantitative"}, "y": {"datum": 1.6, "type": "quantitative"}, "text": {"field": "rms", "format": ".2f"}, "color": {"field": "series", "type": "nominal"}}
      },
      {
        "transform": [{"filter": "isValid(datum.rms) && datum.series == 'DFPPP3_2'"}],
        "mark": {"type": "text", "align": "left", "baseline": "alphabetic", "font": "Liberation Sans", "fontSize": 26},
        "encoding": {"x": {"datum": 18.35, "type": "quantitative"}, "y": {"datum": 1.1, "type": "quantitative"}, "text": {"field": "rms", "format": ".2f"}, "color": {"field": "series", "type": "nominal"}}
      }
    ]
  },
  "config": {
    "font": "Liberation Sans",
    "view": {"stroke": "#262626", "strokeWidth": 2}
  }
}
